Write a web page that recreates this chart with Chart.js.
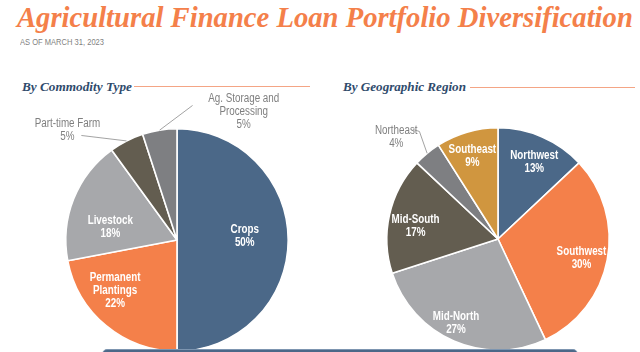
<!DOCTYPE html>
<html><head><meta charset="utf-8">
<script src="https://cdn.jsdelivr.net/npm/chart.js@4.4.1/dist/chart.umd.min.js"></script>
<style>
html,body{margin:0;padding:0;background:#fff;width:640px;height:352px;overflow:hidden;position:relative;}
#title{position:absolute;left:17px;top:-1px;font-family:"Liberation Serif",serif;font-weight:bold;font-style:italic;color:#F4804A;font-size:30px;line-height:36px;white-space:nowrap;}
#sub{position:absolute;left:20px;top:37px;font-family:"Liberation Sans",Arial,sans-serif;color:#7f7f7f;font-size:8.5px;line-height:10px;white-space:nowrap;transform-origin:0 0;}
.hdr{position:absolute;font-family:"Liberation Serif",serif;font-weight:bold;font-style:italic;color:#2F4B6C;font-size:14px;line-height:16px;white-space:nowrap;}
.rule{position:absolute;height:1px;background:#F4A585;}
canvas{position:absolute;}
#banner{position:absolute;left:102px;top:349px;width:474px;height:20px;background:#4B6888;border:1px solid #7d95b0;border-radius:5px;}
</style></head>
<body>
<div id="title">Agricultural Finance Loan Portfolio Diversification</div>
<div id="sub">AS OF MARCH 31, 2023</div>
<div class="hdr" id="h1" style="left:22px;top:79px;">By Commodity Type</div>
<div class="rule" style="left:134px;top:86px;width:176px;"></div>
<div class="hdr" id="h2" style="left:343px;top:79px;">By Geographic Region</div>
<div class="rule" style="left:470px;top:87px;width:165px;"></div>
<div style="position:absolute;left:0;top:90px;width:320px;height:262px;"><canvas id="c1" width="320" height="262"></canvas></div>
<div style="position:absolute;left:320px;top:90px;width:320px;height:262px;"><canvas id="c2" width="320" height="262"></canvas></div>
<div id="banner"></div>
<script>
// ---- data ----
const commodityLabels = ["Crops", "Permanent Plantings", "Livestock", "Part-time Farm", "Ag. Storage and Processing"];
const commodityValues = [50, 22, 18, 5, 5];
const regionLabels = ["Northwest", "Southwest", "Mid-North", "Mid-South", "Northeast", "Southeast"];
const regionValues = [13, 30, 27, 17, 4, 9];

// ---- styles ----
const commodityColors = ["#4B6888", "#F4804A", "#A7A8AB", "#635D50", "#7E7F82"];
const regionColors = ["#4B6888", "#F4804A", "#A7A8AB", "#635D50", "#7E7F82", "#D0963F"];
const commodityText = [["Crops"], ["Permanent", "Plantings"], ["Livestock"], ["Part-time Farm"], ["Ag. Storage and", "Processing"]];
const regionText = [["Northwest"], ["Southwest"], ["Mid-North"], ["Mid-South"], ["Northeast"], ["Southeast"]];
const commodityPlace = [
  {r: 0.61, da: -3},
  {r: 0.72, da: 11},
  {r: 0.61, da: -11},
  {out: true, tx: -0.985, ty: -0.985, lx: -0.86, ly: -0.94},
  {out: true, tx: 0.60, ty: -1.15, lx: 0.14, ly: -1.21}
];
const regionPlace = [
  {r: 0.76, da: 2},
  {r: 0.77, da: 2},
  {r: 0.85, da: 3},
  {r: 0.75, da: -4},
  {out: true, tx: -0.915, ty: -0.915, lx: -0.72, ly: -0.985, corner: true},
  {r: 0.78, da: -1}
];

const sansFam = '"Liberation Sans",Arial,sans-serif';
const SX = 0.82; // horizontal condensation to mimic a narrow face

function narrowText(ctx, t, x, y) {
  ctx.save();
  ctx.translate(x, y);
  ctx.scale(SX, 1);
  ctx.fillText(t, 0, 0);
  ctx.restore();
}

const labelPlugin = {
  id: 'sliceLabels',
  afterDatasetsDraw(chart, args, opts) {
    const ctx = chart.ctx;
    const meta = chart.getDatasetMeta(0);
    const values = chart.data.datasets[0].data;
    const total = values.reduce((a, b) => a + b, 0);
    meta.data.forEach((arc, i) => {
      const p = opts.place[i];
      const cx = arc.x, cy = arc.y, R = arc.outerRadius;
      const pct = Math.round(values[i] / total * 100) + '%';
      const lines = opts.text[i].concat([pct]);
      const lh = 13;
      ctx.save();
      ctx.textAlign = 'center';
      ctx.textBaseline = 'middle';
      if (!p.out) {
        const mid = (arc.startAngle + arc.endAngle) / 2 + p.da * Math.PI / 180;
        const x = cx + Math.cos(mid) * R * p.r;
        const y = cy + Math.sin(mid) * R * p.r;
        ctx.fillStyle = '#ffffff';
        ctx.font = 'bold 12px ' + sansFam;
        lines.forEach((t, k) => narrowText(ctx, t, x, y + (k - (lines.length - 1) / 2) * lh));
      } else {
        const mid = (arc.startAngle + arc.endAngle) / 2;
        const ex = cx + Math.cos(mid) * R, ey = cy + Math.sin(mid) * R;
        const lx = cx + p.lx * R, ly = cy + p.ly * R;
        ctx.strokeStyle = '#8c8c8c';
        ctx.lineWidth = 0.8;
        ctx.beginPath();
        ctx.moveTo(ex, ey);
        if (p.corner) { ctx.lineTo(lx + 1.5, ly + 2); ctx.lineTo(lx - 5, ly); }
        else ctx.lineTo(lx, ly);
        ctx.stroke();
        const x = cx + p.tx * R, y = cy + p.ty * R;
        ctx.fillStyle = '#7f7f7f';
        ctx.font = '12px ' + sansFam;
        lines.forEach((t, k) => narrowText(ctx, t, x, y + (k - (lines.length - 1) / 2) * lh));
      }
      ctx.restore();
    });
  }
};

function makePie(id, labels, values, colors, text, place, pad) {
  new Chart(document.getElementById(id), {
    type: 'pie',
    data: { labels: labels, datasets: [{ data: values, backgroundColor: colors, borderColor: '#ffffff', borderWidth: 1.6 }] },
    options: {
      responsive: false, animation: false, events: [],
      layout: { padding: pad },
      plugins: { legend: { display: false }, tooltip: { enabled: false }, sliceLabels: { text: text, place: place } }
    },
    plugins: [labelPlugin]
  });
}

makePie('c1', commodityLabels, commodityValues, commodityColors, commodityText, commodityPlace, {left: 65, right: 31, top: 38, bottom: 0});
makePie('c2', regionLabels, regionValues, regionColors, regionText, regionPlace, {left: 66, right: 30, top: 37, bottom: 1});

// fit text blocks to their widths in the reference
(function(){
  function fitFont(id, base, target) {
    const el = document.getElementById(id);
    const w = el.getBoundingClientRect().width;
    el.style.fontSize = (base * target / w).toFixed(2) + 'px';
  }
  fitFont('title', 30, 616);
  fitFont('h1', 14, 110);
  fitFont('h2', 14, 123);
  const s = document.getElementById('sub');
  const sw = s.getBoundingClientRect().width;
  s.style.transform = 'scaleX(' + (84 / sw).toFixed(3) + ')';
})();
</script>
</body></html>
